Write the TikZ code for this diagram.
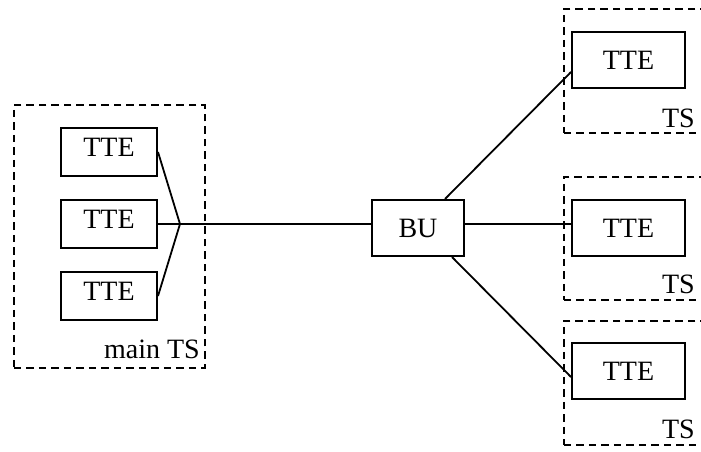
\documentclass[tikz,border=0pt]{standalone}
\usepackage{fontspec}
\setmainfont{Liberation Serif}
\begin{document}
\begin{tikzpicture}[x=1pt,y=-1pt,
  every node/.style={font=\fontsize{28}{31}\selectfont},
  boxn/.style={draw,line width=2pt,inner sep=0pt},
  ltte/.style={boxn,minimum width=96pt,minimum height=48pt},
  rtte/.style={boxn,minimum width=113pt,minimum height=56pt},
  tsbox/.style={draw,line width=1.8pt,dash pattern=on 7.5pt off 5pt,inner sep=0pt},
  wire/.style={line width=1.8pt},
  txt/.style={inner sep=0pt}]
\clip (0,0) rectangle (701,452);
% dashed groups
\node[tsbox,minimum width=191pt,minimum height=263pt,anchor=north west] (mts) at (13,104) {};
\node[tsbox,minimum width=160pt,minimum height=124pt,anchor=north west] (ts1) at (563,8) {};
\node[tsbox,minimum width=160pt,minimum height=123pt,anchor=north west] (ts2) at (563,176) {};
\node[tsbox,minimum width=160pt,minimum height=124pt,anchor=north west] (ts3) at (563,320) {};
\node[txt,anchor=base east] (lmts) at (200,358) {main TS};
\node[txt,anchor=base east] (lts1) at (695,127) {TS};
\node[txt,anchor=base east] (lts2) at (695,293) {TS};
\node[txt,anchor=base east] (lts3) at (695,438) {TS};
% left TTEs
\node[ltte] (a1) at (109,152) {};
\node[ltte] (a2) at (109,224) {};
\node[ltte] (a3) at (109,296) {};
\node[txt] (ta1) at ([yshift=5pt]a1.center) {TTE};
\node[txt] (ta2) at ([yshift=5pt]a2.center) {TTE};
\node[txt] (ta3) at ([yshift=5pt]a3.center) {TTE};
% BU
\node[boxn,minimum width=92pt,minimum height=56pt] (bu) at (418,228) {BU};
% right TTEs
\node[rtte] (b1) at (628.5,60) {TTE};
\node[rtte] (b2) at (628.5,228) {TTE};
\node[rtte] (b3) at (628.5,371) {TTE};
% wires
\coordinate (j) at (180,224);
\draw[wire] (a1.east) -- (j) -- (a3.east);
\draw[wire] (a2.east) -- (j);
\draw[wire] (j) -- (bu.west |- j);
\draw[wire] (bu.east |- j) -- (b2.west |- j);
\draw[wire] ([xshift=27pt]bu.north) -- ([yshift=-12pt]b1.west);
\draw[wire] ([xshift=34pt]bu.south) -- ([yshift=-6pt]b3.west);
\end{tikzpicture}
\end{document}
